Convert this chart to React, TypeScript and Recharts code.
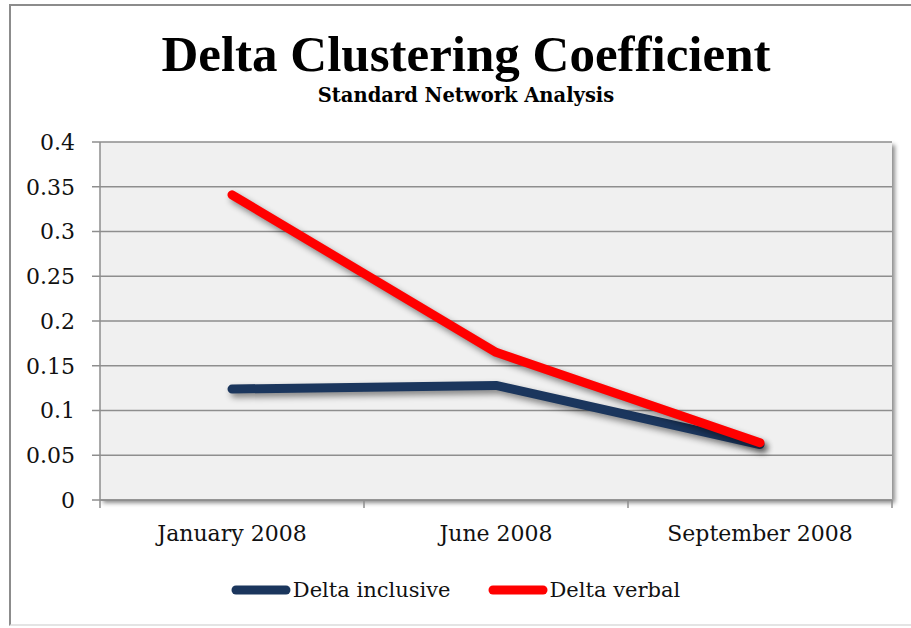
import { CartesianGrid, Line, LineChart, XAxis, YAxis } from 'recharts';

const months = ['January 2008', 'June 2008', 'September 2008'];
const inclusive = [0.124, 0.128, 0.062];
const verbal = [0.341, 0.165, 0.064];
const yTicks = [0, 0.05, 0.1, 0.15, 0.2, 0.25, 0.3, 0.35, 0.4];

const series = [
  { key: 'inclusive', name: 'Delta inclusive', color: '#1b365d' },
  { key: 'verbal', name: 'Delta verbal', color: '#ff0000' },
];

const data = months.map((m, i) => ({ month: m, inclusive: inclusive[i], verbal: verbal[i] }));

const TITLE_FONT = '"Liberation Serif", serif';
const FONT = '"DejaVu Serif", serif';
const GRID = '#8e8e8e';
const LABEL_GAP = 25;

// category label centred in its band, with tick marks on the band boundaries
function BandTick(props: any) {
  const { x, y, payload, index, visibleTicksCount } = props;
  const half = payload.offset ?? 0;
  const last = index === visibleTicksCount - 1;
  const top = y - LABEL_GAP;
  return (
    <g>
      <line x1={x - half} x2={x - half} y1={top} y2={top + 8} stroke={GRID} strokeWidth={1.5} />
      {last && <line x1={x + half} x2={x + half} y1={top} y2={top + 8} stroke={GRID} strokeWidth={1.5} />}
      <text x={x} y={y} dy="0.71em" textAnchor="middle" fill="#111" fontSize={22} fontFamily={FONT}>
        {payload.value}
      </text>
    </g>
  );
}

function LegendRow() {
  return (
    <div
      style={{
        position: 'absolute',
        left: 0,
        top: 578,
        width: 911,
        display: 'flex',
        justifyContent: 'center',
        gap: 37,
        fontFamily: FONT,
        fontSize: 21,
        color: '#111',
      }}
    >
      {series.map((s) => (
        <div key={s.key} style={{ display: 'flex', alignItems: 'center' }}>
          <svg width={60} height={12}>
            <line x1={5} y1={6} x2={55} y2={6} stroke={s.color} strokeWidth={9} strokeLinecap="round" />
          </svg>
          <span style={{ marginLeft: 2 }}>{s.name}</span>
        </div>
      ))}
    </div>
  );
}

export default function App() {
  return (
    <div style={{ position: 'absolute', left: 0, top: 0, width: 911, height: 628, overflow: 'hidden', background: '#fff' }}>
      <style>{`
        .recharts-cartesian-grid-bg { filter: drop-shadow(3px 3px 2px rgba(0,0,0,0.45)); }
        .recharts-line-curve { filter: drop-shadow(3px 4px 3px rgba(0,0,0,0.45)); }
      `}</style>
      <div style={{ position: 'absolute', left: 9, top: 4, width: 940, height: 622, border: '2px solid #8c8c8c', borderBottomColor: '#e4e4e4', boxSizing: 'border-box' }} />
      <div style={{ position: 'absolute', left: 0, top: 25, width: 932, textAlign: 'center', fontFamily: TITLE_FONT, fontWeight: 'bold', fontSize: 51, color: '#000' }}>
        Delta Clustering Coefficient
      </div>
      <div style={{ position: 'absolute', left: 0, top: 84, width: 932, textAlign: 'center', fontFamily: FONT, fontWeight: 'bold', fontSize: 19.5, color: '#000' }}>
        Standard Network Analysis
      </div>
      <LineChart
        width={911}
        height={628}
        data={data}
        margin={{ top: 142, right: 19, left: 0, bottom: 0 }}
        style={{ position: 'absolute', left: 0, top: 0 }}
      >
        <CartesianGrid stroke={GRID} strokeWidth={1.5} vertical={false} fill="#f0f0f0" fillOpacity={1} />
        <XAxis
          dataKey="month"
          scale="band"
          height={128}
          tickLine={false}
          tickSize={0}
          tickMargin={LABEL_GAP}
          stroke={GRID}
          strokeWidth={1.5}
          interval={0}
          tick={<BandTick />}
        />
        <YAxis
          width={100}
          domain={[0, 0.4]}
          ticks={yTicks}
          tickSize={8}
          tickMargin={17}
          stroke={GRID}
          strokeWidth={1.5}
          tick={{ fontSize: 22, fill: '#111', fontFamily: FONT }}
        />
        <YAxis yAxisId="edge" orientation="right" width={0} tick={false} tickLine={false} stroke={GRID} strokeWidth={2} />
        {series.map((s) => (
          <Line
            key={s.key}
            type="linear"
            dataKey={s.key}
            name={s.name}
            stroke={s.color}
            strokeWidth={9}
            strokeLinecap="round"
            strokeLinejoin="round"
            dot={false}
            activeDot={false}
            isAnimationActive={false}
          />
        ))}
      </LineChart>
      <LegendRow />
    </div>
  );
}
